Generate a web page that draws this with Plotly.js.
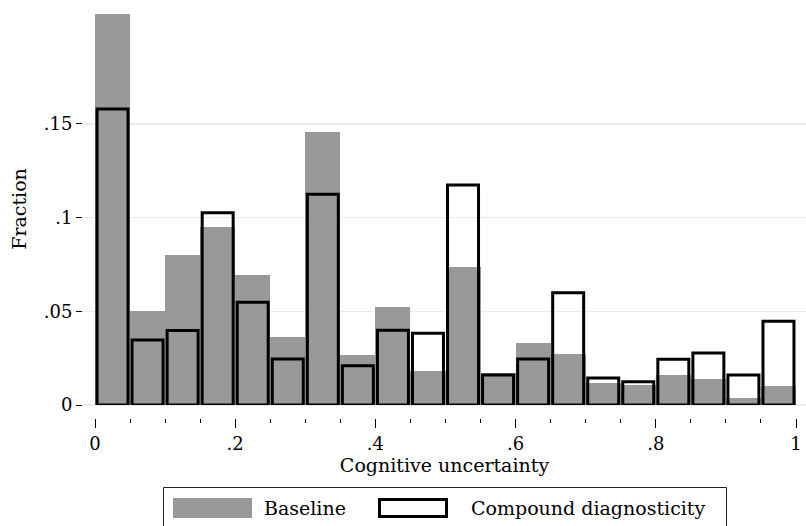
<!DOCTYPE html>
<html>
<head>
<meta charset="utf-8">
<script src="https://cdn.plot.ly/plotly-3.0.1.min.js"></script>
<style>html,body{margin:0;padding:0;background:#fff}#chart{width:806px;height:526px}</style>
</head>
<body>
<div id="chart"></div>
<script>
// Bin left edges (width 0.05)
var binLeft = [0, 0.05, 0.10, 0.15, 0.20, 0.25, 0.30, 0.35, 0.40, 0.45,
               0.50, 0.55, 0.60, 0.65, 0.70, 0.75, 0.80, 0.85, 0.90, 0.95];
var binWidth = 0.05;
// Fractions
var baseline = [0.2086, 0.050, 0.080, 0.095, 0.0694, 0.0363, 0.1457, 0.0267, 0.0523, 0.0183,
                0.0738, 0.0169, 0.0333, 0.0272, 0.0116, 0.0107, 0.0160, 0.0139, 0.0039, 0.0101];
var compound = [0.158, 0.0347, 0.0397, 0.1026, 0.0548, 0.0245, 0.1124, 0.0210, 0.0399, 0.0383,
                0.1174, 0.0160, 0.0245, 0.0599, 0.0144, 0.0124, 0.0244, 0.0277, 0.0160, 0.0447];
var xTickVals = [0, 0.2, 0.4, 0.6, 0.8, 1];
var xTickText = ['0', '.2', '.4', '.6', '.8', '1'];
var yTickVals = [0, 0.05, 0.10, 0.15];
var yTickText = ['0', '.05', '.1', '.15'];
var seriesNames = ['Baseline', 'Compound diagnosticity'];

var centers = binLeft.map(function (b) { return b + binWidth / 2; });
var FONT = 'DejaVu Serif';
var FS_TICK = 18;
var FS = 19;

// pixel -> paper helpers (plot area: x 83..806, y 13..418)
var L = 83, R = 806, T = 13, B = 418;
function px(x) { return (x - L) / (R - L); }
function py(y) { return (B - y) / (B - T); }

var traces = [
  {
    type: 'bar', x: centers, y: baseline, width: binWidth, name: seriesNames[0],
    marker: { color: '#999999', line: { width: 0 } }, hoverinfo: 'x+y'
  },
  {
    type: 'bar', x: centers, y: compound, width: 0.0442, name: seriesNames[1],
    marker: { color: 'rgba(0,0,0,0)', line: { color: '#000000', width: 3 } }, hoverinfo: 'x+y'
  }
];

var layout = {
  width: 806, height: 526,
  margin: { l: L, r: 806 - R, t: T, b: 526 - B, pad: 0 },
  paper_bgcolor: '#ffffff', plot_bgcolor: '#ffffff',
  barmode: 'overlay', bargap: 0,
  showlegend: false,
  font: { family: FONT, size: FS, color: '#000' },
  xaxis: {
    range: [-12 / 701, 1 + 10 / 701],
    anchor: 'free', position: 0,
    tickvals: xTickVals, ticktext: xTickText,
    ticks: 'outside', ticklen: 9, tickwidth: 1, tickcolor: '#000',
    minor: { dtick: 0.05, tick0: 0, ticks: 'outside', ticklen: 4, tickwidth: 1, tickcolor: '#000', showgrid: false },
    showgrid: false, zeroline: false, showline: false,
    tickfont: { family: FONT, size: FS_TICK, color: '#000' },
    title: { text: 'Cognitive uncertainty', font: { family: FONT, size: FS, color: '#000' }, standoff: 2 },
    automargin: false
  },
  yaxis: {
    domain: [(B - 405) / (B - T), 1],
    range: [0, (405 - T) / 1874],
    tickvals: yTickVals, ticktext: yTickText,
    ticks: 'outside', ticklen: 6, tickwidth: 1, tickcolor: '#000',
    showgrid: true, gridcolor: '#ebebeb', gridwidth: 1.5,
    zeroline: true, zerolinecolor: '#ebebeb', zerolinewidth: 1.5,
    showline: false,
    tickfont: { family: FONT, size: FS_TICK, color: '#000' },
    title: { text: 'Fraction', font: { family: FONT, size: FS, color: '#000' }, standoff: 12 },
    automargin: false
  },
  shapes: [
    { type: 'rect', xref: 'paper', yref: 'paper', x0: px(163.5), x1: px(726.5), y0: py(487.5), y1: py(532),
      line: { color: '#222', width: 1 }, fillcolor: 'rgba(0,0,0,0)' },
    { type: 'rect', xref: 'paper', yref: 'paper', x0: px(173), x1: px(252), y0: py(498), y1: py(518),
      line: { width: 0 }, fillcolor: '#999999' },
    { type: 'rect', xref: 'paper', yref: 'paper', x0: px(379.5), x1: px(446.5), y0: py(499.5), y1: py(516.5),
      line: { color: '#000', width: 3 }, fillcolor: 'rgba(0,0,0,0)' }
  ],
  annotations: [
    { xref: 'paper', yref: 'paper', x: px(262), y: py(508), xanchor: 'left', yanchor: 'middle',
      text: seriesNames[0], showarrow: false, font: { family: FONT, size: FS, color: '#000' } },
    { xref: 'paper', yref: 'paper', x: px(469), y: py(508), xanchor: 'left', yanchor: 'middle',
      text: seriesNames[1], showarrow: false, font: { family: FONT, size: FS, color: '#000' } }
  ]
};

Plotly.newPlot('chart', traces, layout, { displayModeBar: false, staticPlot: true });
</script>
</body>
</html>
